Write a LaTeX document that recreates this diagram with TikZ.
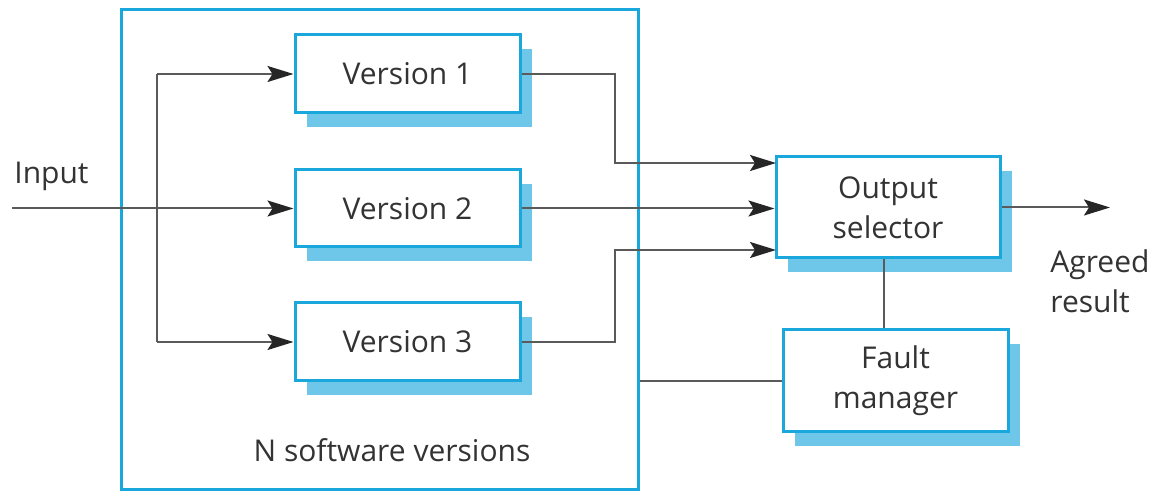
\documentclass[tikz,border=0pt]{standalone}
\usepackage{fontspec}
\setmainfont{Open Sans}
\usetikzlibrary{arrows.meta,shadows,calc}
\definecolor{edgeblue}{HTML}{1AA7DC}
\definecolor{shadeblue}{HTML}{6EC6E8}
\definecolor{wire}{HTML}{5A5A5A}
\definecolor{ink}{HTML}{333333}
\begin{document}
\begin{tikzpicture}[x=0.5pt,y=-0.5pt,
  font=\fontsize{15}{20}\selectfont\color{ink},
  block/.style={draw=edgeblue,line width=1.5pt,fill=white,align=center,
    inner sep=0pt,
    drop shadow={shadow xshift=6pt,shadow yshift=-7pt,fill=shadeblue,opacity=1}},
  wireline/.style={draw=wire,line width=1pt},
  arr/.style={wireline,-{Stealth[length=13pt,width=8pt,inset=2.5pt,color=black!85]}}]
\useasboundingbox (0,0) rectangle (1151,491);

% container of the N versions
\node[draw=edgeblue,line width=1.5pt,minimum width=258.5pt,minimum height=239.5pt,
      inner sep=0pt] (group) at (379.5,249.5) {};
\node (grouplabel) at (392,450) {N software versions};

% version blocks
\node[block,minimum width=112.5pt,minimum height=39pt] (v1) at (407.5,74) {Version 1};
\node[block,minimum width=112.5pt,minimum height=38.5pt] (v2) at (407.5,208.5) {Version 2};
\node[block,minimum width=112.5pt,minimum height=39pt] (v3) at (407.5,342) {Version 3};

% selector and fault manager
\node[block,minimum width=112pt,minimum height=50.5pt] (sel) at (888,207.5) {Output\\selector};
\node[block,minimum width=112.5pt,minimum height=51pt] (fm) at (895.5,381) {Fault\\manager};

% input and its fan-out
\coordinate (in) at (12,208.5);
\coordinate (fanA) at (157,74);
\coordinate (fanB) at (157,342);
\node[anchor=south west,inner sep=0pt] (inlabel) at (14,191) {Input};
\draw[arr] (in) -- (v2.west);
\draw[wireline] (fanA) -- (fanB);
\draw[arr] (fanA) -- (v1.west);
\draw[arr] (fanB) -- (v3.west);

% version outputs into the selector
\coordinate (s1) at (776,163);
\coordinate (s3) at (776,250);
\draw[arr] (v1.east) -- (615,74) |- (s1);
\draw[arr] (v2.east) -- (v2.east -| sel.west);
\draw[arr] (v3.east) -- (615,342) |- (s3);

% result
\coordinate (out) at (1110,207.5);
\draw[arr] (sel.east) -- (out);
\node[anchor=north west,align=left,inner sep=0pt] (res) at (1050,249) {Agreed\\result};

% fault manager links
\draw[wireline] (sel.south -| 884,0) -- (fm.north -| 884,0);
\draw[wireline] (fm.west) -- (fm.west -| group.east);
\end{tikzpicture}
\end{document}
